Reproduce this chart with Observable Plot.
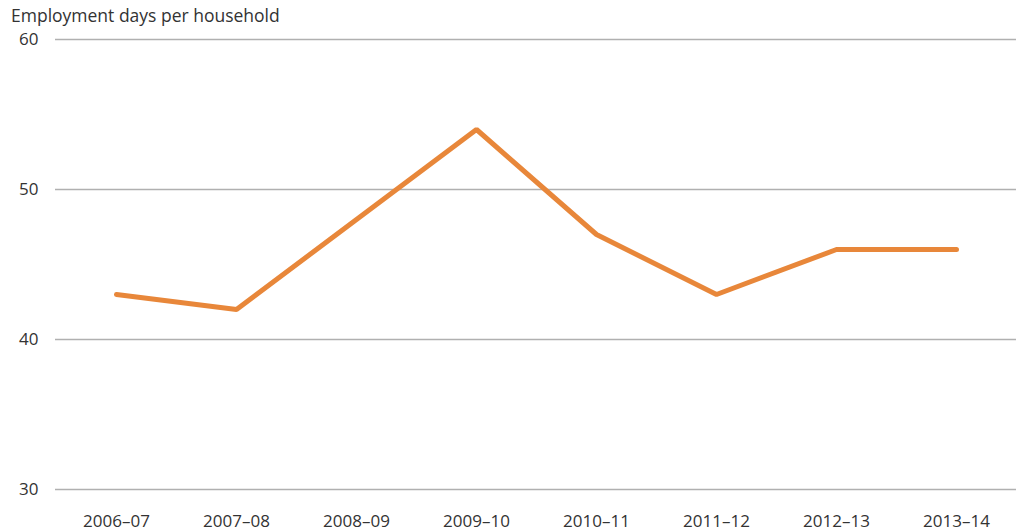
<!DOCTYPE html>
<html>
<head>
<meta charset="utf-8">
<script src="https://cdn.jsdelivr.net/npm/d3@7"></script>
<script src="https://cdn.jsdelivr.net/npm/@observablehq/plot@0.6"></script>
<style>
  body { margin: 0; background: #fff; font-family: "Open Sans", Lato, sans-serif; }
  #title { height: 22px; padding-top: 4px; line-height: 22px; font-size: 17.5px; color: #333; padding-left: 11px; white-space: nowrap; }
</style>
</head>
<body>
<div id="title">Employment days per household</div>
<div id="chart"></div>
<script>
const years = ["2006–07", "2007–08", "2008–09", "2009–10", "2010–11", "2011–12", "2012–13", "2013–14"];
const days = [43, 42, 48, 54, 47, 43, 46, 46];
const yTicks = [30, 40, 50, 60];

const data = years.map((y, i) => ({year: y, days: days[i]}));

const chart = Plot.plot({
  width: 1016,
  height: 505,
  marginTop: 13,
  marginBottom: 42,
  marginLeft: 55,
  marginRight: 0,
  style: {fontFamily: "'Open Sans', Lato, sans-serif", fontSize: "17px", color: "#333", background: "#fff"},
  x: {type: "point", domain: years, padding: 0.5, label: null},
  y: {domain: [30, 60], ticks: yTicks, label: null},
  marks: [
    Plot.gridY(yTicks, {stroke: "#b0b0b0", strokeOpacity: 1, strokeWidth: 1.5}),
    Plot.axisY(yTicks, {tickSize: 0, tickPadding: 17, label: null, fontSize: 17}),
    Plot.axisX({tickSize: 0, tickPadding: 25, label: null, fontSize: 17}),
    Plot.line(data, {x: "year", y: "days", stroke: "#E8873A", strokeWidth: 5, strokeLinecap: "round", strokeLinejoin: "miter"})
  ]
});
document.getElementById("chart").appendChild(chart);
</script>
</body>
</html>
